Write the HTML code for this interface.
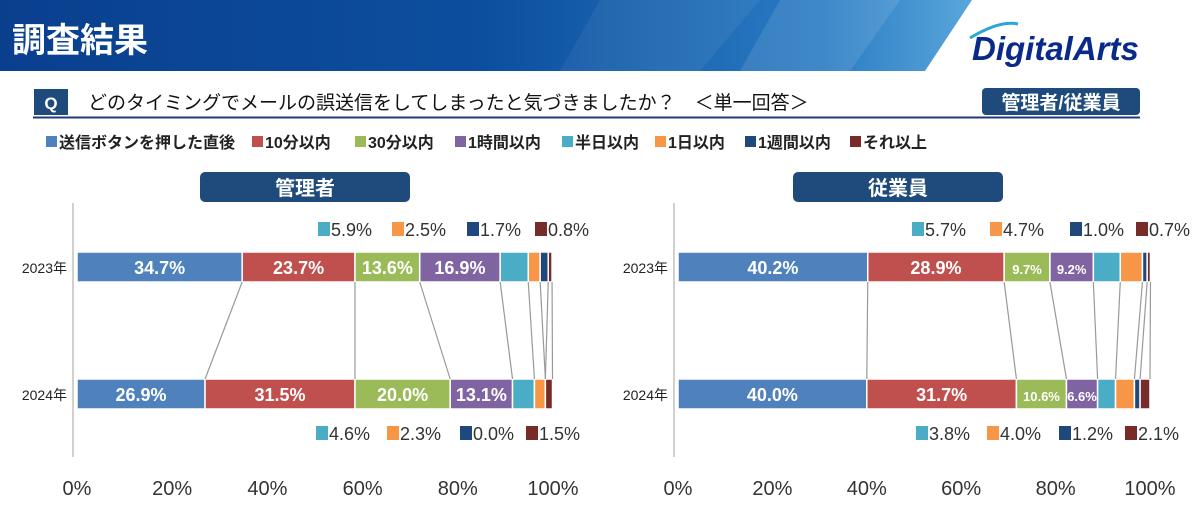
<!DOCTYPE html>
<html><head><meta charset="utf-8">
<style>
body{margin:0;width:1200px;height:518px;overflow:hidden;background:#fff;font-family:"Liberation Sans","Noto Sans CJK JP",sans-serif;}
svg text{font-family:"Liberation Sans","Noto Sans CJK JP",sans-serif;}
</style></head>
<body>
<svg id="s" width="1200" height="518" viewBox="0 0 1200 518">
<defs>
<linearGradient id="hg" x1="0" y1="0" x2="1" y2="0">
<stop offset="0" stop-color="#0a3f8e"/><stop offset="0.5" stop-color="#0c4f9e"/><stop offset="0.85" stop-color="#2a7cc4"/><stop offset="1" stop-color="#5aa6da"/>
</linearGradient>
</defs>
<polygon points="0,0 972,0 925,71 0,71" fill="url(#hg)"/>
<polygon points="600,0 760,0 700,71 560,71" fill="#ffffff" opacity="0.06"/>
<polygon points="780,0 900,0 850,71 740,71" fill="#ffffff" opacity="0.1"/>
<text x="12" y="52" font-size="34" font-weight="bold" fill="#fff">調査結果</text>
<text x="972" y="60" font-size="33" font-weight="bold" font-style="italic" fill="#0a2a8a">DigitalArts</text>
<path d="M970,38 Q1000,20 1018,24" stroke="#2aa6d8" stroke-width="3" fill="none"/>
<rect x="34" y="89" width="34" height="26" fill="#1f4a7c"/>
<text x="51" y="109" font-size="17" font-weight="bold" fill="#fff" text-anchor="middle">Q</text>
<text x="88" y="109" font-size="19" fill="#111">どのタイミングでメールの誤送信をしてしまったと気づきましたか？　＜単一回答＞</text>
<line x1="33" y1="117.5" x2="1140" y2="117.5" stroke="#1f3a7a" stroke-width="2"/>
<rect x="982" y="88" width="158" height="27" rx="4" fill="#1f4a7c"/>
<text x="1061" y="109" font-size="19" font-weight="bold" fill="#fff" text-anchor="middle">管理者/従業員</text>
<g id="legend"></g>
<g id="charts"></g>
</svg>
<script>
const categories=["送信ボタンを押した直後","10分以内","30分以内","1時間以内","半日以内","1日以内","1週間以内","それ以上"];
const colors=["#4f81bd","#c0504d","#9bbb59","#8064a2","#4bacc6","#f79646","#1f497d","#772c2a"];
const years=["2023年","2024年"];
const mgr2023=[34.7,23.7,13.6,16.9,5.9,2.5,1.7,0.8];
const mgr2024=[26.9,31.5,20.0,13.1,4.6,2.3,0.0,1.5];
const emp2023=[40.2,28.9,9.7,9.2,5.7,4.7,1.0,0.7];
const emp2024=[40.0,31.7,10.6,6.6,3.8,4.0,1.2,2.1];
const ticks=[0,20,40,60,80,100];
const NS="http://www.w3.org/2000/svg";
function mk(tag,attrs,parent){const e=document.createElementNS(NS,tag);for(const k in attrs)e.setAttribute(k,attrs[k]);parent.appendChild(e);return e;}
const lg=document.getElementById('legend');
const legX=[46,252,355,455,562,655,745,850];
categories.forEach((c,i)=>{
  const g=mk('g',{},lg);
  
  
  mk('rect',{x:legX[i],y:136,width:11,height:11,fill:colors[i]},g);
  const t=mk('text',{x:legX[i]+13,y:148,'font-size':16,'font-weight':'bold',fill:'#222'},g);t.textContent=c;
});
const charts=document.getElementById('charts');
function drawChart(title,titleX,x0,w,d23,d24,lab23X,lab24X){
  const g=mk('g',{},charts);
  
  
  const xs=v=>x0+v/100*w;
  const tb=mk('rect',{x:titleX,y:172,width:210,height:30,rx:5,fill:'#1f4a7c'},g);
  
  
  const tt=mk('text',{x:titleX+105,y:195,'font-size':20,'font-weight':'bold',fill:'#fff','text-anchor':'middle'},g);tt.textContent=title;
  mk('line',{x1:x0-4,y1:203,x2:x0-4,y2:457,stroke:'#d0d0d0','stroke-width':2},g);
  ticks.forEach(t=>{
    const e=mk('text',{x:xs(t),y:495,'font-size':20,fill:'#333','text-anchor':'middle'},g);e.textContent=t+'%';
    
    
  });
  const rows=[[d23,252],[d24,379]];
  rows.forEach(([d,y],ri)=>{
    const yl=mk('text',{x:x0-10,y:y+21,'font-size':14,fill:'#222','text-anchor':'end'},g);yl.textContent=years[ri];
    
    
    let c=0;
    d.forEach((v,i)=>{
      const r=mk('rect',{x:xs(c),y:y,width:Math.max(0,xs(c+v)-xs(c)),height:30,fill:colors[i],stroke:'#fff','stroke-width':1.5},g);
      
      
      if(i<4){
        const fs=(xs(c+v)-xs(c))<55?13:18;
        const t=mk('text',{x:(xs(c)+xs(c+v))/2,y:y+22,'font-size':fs,'font-weight':'bold',fill:'#fff','text-anchor':'middle'},g);t.textContent=v.toFixed(1)+'%';
      }
      c+=v;
    });
  });
  let c1=0,c2=0;
  for(let i=0;i<d23.length;i++){
    c1+=d23[i];c2+=d24[i];
    mk('line',{x1:xs(c1),y1:282,x2:xs(c2),y2:379,stroke:'#999','stroke-width':1.2},g);
  }
  [[d23,lab23X,236],[d24,lab24X,440]].forEach(([d,lx,y])=>{
    for(let i=4;i<8;i++){
      const x=lx[i-4];
      mk('rect',{x:x,y:y-14,width:12,height:14,fill:colors[i]},g);
      const t=mk('text',{x:x+13,y:y,'font-size':18,fill:'#333'},g);t.textContent=d[i].toFixed(1)+'%';
      
      
    }
  });
}
drawChart('管理者',200,77,476,mgr2023,mgr2024,[318,392,467,535],[316,387,460,526]);
drawChart('従業員',793,678,472,emp2023,emp2024,[912,990,1070,1136],[916,987,1059,1125]);
</script>
</body></html>
